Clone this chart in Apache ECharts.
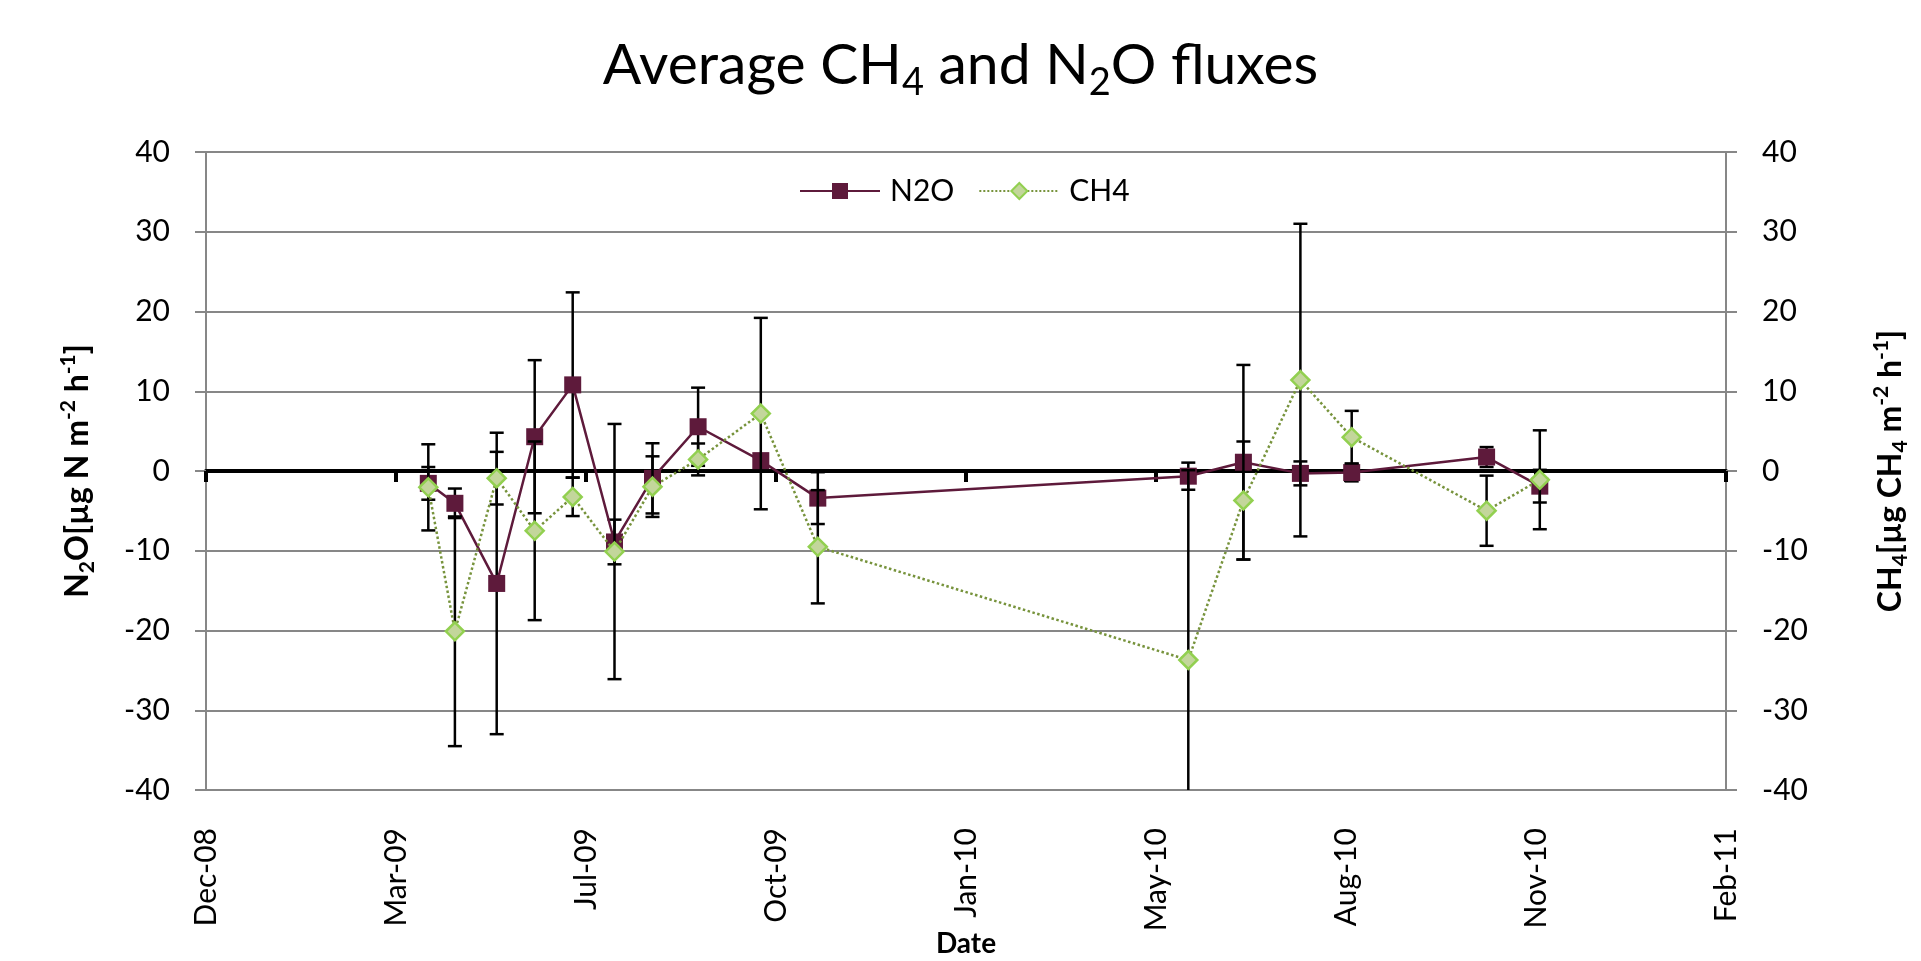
<!DOCTYPE html>
<html>
<head>
<meta charset="utf-8">
<title>Average CH4 and N2O fluxes</title>
<script src="https://cdn.jsdelivr.net/npm/echarts@6/dist/echarts.min.js"></script>
<style>
  html, body { margin: 0; padding: 0; background: #fff; }
  #chart { width: 1921px; height: 961px; }
</style>
</head>
<body>
<div id="chart"></div>
<script>
// ---- data ----
const dates = ['2009-04-14','2009-04-28','2009-05-20','2009-06-09','2009-06-29','2009-07-21',
               '2009-08-10','2009-09-03','2009-10-06','2009-11-05','2010-05-19','2010-06-17',
               '2010-07-17','2010-08-13','2010-10-23','2010-11-20'];
const n2o    = [-1.55, -4.05, -14.1, 4.3, 10.8, -8.9, -0.92, 5.55, 1.3, -3.4, -0.65, 1.1, -0.3, -0.2, 1.75, -1.9];
const n2oErr = [2.05, 1.85, 18.9, 9.6, 11.6, 2.8, 4.4, 4.9, 0.7, 3.25, 1.7, 12.2, 1.5, 1.1, 1.25, 2.05];
const ch4    = [-2.05, -20.1, -0.9, -7.5, -3.25, -10.1, -1.96, 1.45, 7.2, -9.5, -23.7, -3.7, 11.4, 4.24, -4.98, -1.1];
const ch4Err = [5.4, 14.4, 3.3, 11.2, 2.4, 16.0, 3.8, 2.0, 12.0, 7.1, 23.8, 7.4, 19.6, 3.3, 4.4, 6.2];
const seriesNames = ['N2O', 'CH4'];
const xMin = 39800, xMax = 40600, xStep = 100;   // Excel day serials (Dec-08 .. Feb-11)
const yMin = -40, yMax = 40, yStep = 10;

// ---- helpers ----
const EPOCH = Date.UTC(1899, 11, 30);
const DAY = 86400000;
const MONTHS = ['Jan','Feb','Mar','Apr','May','Jun','Jul','Aug','Sep','Oct','Nov','Dec'];
function toSerial(s) {
  const p = s.split('-').map(Number);
  return (Date.UTC(p[0], p[1] - 1, p[2]) - EPOCH) / DAY;
}
function fmtSerial(v) {
  const d = new Date(EPOCH + Math.round(v) * DAY);
  const yy = String(d.getUTCFullYear() % 100).padStart(2, '0');
  return MONTHS[d.getUTCMonth()] + '-' + yy;
}
const xs = dates.map(toSerial);
const n2oData = xs.map((x, i) => [x, n2o[i]]);
const ch4Data = xs.map((x, i) => [x, ch4[i]]);
const n2oErrData = xs.map((x, i) => [x, n2o[i], n2oErr[i]]);
const ch4ErrData = xs.map((x, i) => [x, ch4[i], ch4Err[i]]);

function renderErr(params, api) {
  const x = api.value(0), v = api.value(1), e = api.value(2);
  const p1 = api.coord([x, v + e]);
  const p2 = api.coord([x, v - e]);
  const hw = 7;
  const style = { stroke: '#000', lineWidth: 2.5 };
  return {
    type: 'group',
    children: [
      { type: 'line', shape: { x1: p1[0], y1: p1[1], x2: p2[0], y2: p2[1] }, style: style },
      { type: 'line', shape: { x1: p1[0] - hw, y1: p1[1], x2: p1[0] + hw, y2: p1[1] }, style: style },
      { type: 'line', shape: { x1: p2[0] - hw, y1: p2[1], x2: p2[0] + hw, y2: p2[1] }, style: style }
    ]
  };
}

const FONT = 'Lato';
const GRID_GRAY = '#878787';

const chart = echarts.init(document.getElementById('chart'), null, { renderer: 'canvas' });

const yAxisBase = {
  type: 'value', min: yMin, max: yMax, interval: yStep,
  nameLocation: 'middle', nameRotate: 90,
  axisLine: { show: true, onZero: false, lineStyle: { color: GRID_GRAY, width: 2 } },
  axisTick: { show: true, length: 11, lineStyle: { color: GRID_GRAY, width: 2 } },
  axisLabel: { fontFamily: FONT, fontSize: 30, color: '#000', margin: 36 },
  nameMoveOverlap: false
};

const nameRich = {
  b:   { fontFamily: FONT, fontWeight: 'bold', fontSize: 32, lineHeight: 40, color: '#000' },
  sub: { fontFamily: FONT, fontWeight: 'bold', fontSize: 21, lineHeight: 22, verticalAlign: 'bottom', color: '#000' },
  sup: { fontFamily: FONT, fontWeight: 'bold', fontSize: 21, lineHeight: 20, verticalAlign: 'top', color: '#000' }
};

const option = {
  animation: false,
  backgroundColor: '#fff',
  title: {
    text: '{m|Average CH}{s|4}{m| and N}{s|2}{m|O fluxes}',
    left: 'center',
    top: 25,
    textStyle: {
      fontWeight: 'normal',
      rich: {
        m: { fontFamily: FONT, fontWeight: 'normal', fontSize: 57, lineHeight: 72, color: '#000' },
        s: { fontFamily: FONT, fontWeight: 'normal', fontSize: 38, lineHeight: 28, verticalAlign: 'bottom', color: '#000' }
      }
    }
  },
  legend: {
    data: seriesNames,
    left: 794,
    top: 171,
    itemWidth: 80,
    itemHeight: 20,
    itemGap: 24,
    textStyle: { fontFamily: FONT, fontSize: 30, color: '#000', padding: [0, 0, 0, 5] }
  },
  grid: { left: 206, right: 195, top: 152, bottom: 171, containLabel: false, outerBoundsMode: 'none' },
  xAxis: [
    {
      type: 'value', min: xMin, max: xMax, interval: xStep, position: 'bottom',
      axisLine: { show: true, onZero: true, onZeroAxisIndex: 0, lineStyle: { color: '#000', width: 4 } },
      axisTick: { show: true, inside: false, length: 11, lineStyle: { color: '#000', width: 4 } },
      axisLabel: { show: false },
      splitLine: { show: false }
    },
    {
      type: 'value', min: xMin, max: xMax, interval: xStep, position: 'bottom',
      name: 'Date', nameLocation: 'middle', nameGap: 140, nameMoveOverlap: false,
      nameTextStyle: { fontFamily: FONT, fontWeight: 'bold', fontSize: 28, lineHeight: 28, color: '#000' },
      axisLine: { show: false, onZero: false },
      axisTick: { show: false },
      axisLabel: { rotate: 90, margin: 38, fontFamily: FONT, fontSize: 30, color: '#000', formatter: fmtSerial },
      splitLine: { show: false }
    }
  ],
  yAxis: [
    Object.assign({}, yAxisBase, {
      position: 'left',
      name: '{b|N}{sub|2}{b|O[µg N m}{sup|-2}{b| h}{sup|-1}{b|]}',
      nameGap: 108,
      nameTextStyle: { rich: nameRich },
      splitLine: { show: true, lineStyle: { color: GRID_GRAY, width: 2 } }
    }),
    Object.assign({}, yAxisBase, {
      position: 'right',
      name: '{b|CH}{sub|4}{b|[µg CH}{sub|4}{b| m}{sup|-2}{b| h}{sup|-1}{b|]}',
      nameGap: 145,
      nameTextStyle: { rich: nameRich },
      splitLine: { show: false }
    })
  ],
  series: [
    {
      type: 'custom', name: 'N2O err', xAxisIndex: 0, yAxisIndex: 0,
      renderItem: renderErr, data: n2oErrData, encode: { x: 0, y: 1 }, clip: true, z: 2, silent: true
    },
    {
      type: 'line', name: 'N2O', xAxisIndex: 0, yAxisIndex: 0, data: n2oData, z: 3,
      symbol: 'rect', symbolSize: 17,
      lineStyle: { color: '#5E1A3B', width: 2.5, type: 'solid' },
      itemStyle: { color: '#5E1A3B', borderColor: '#5E1A3B', borderWidth: 0 }
    },
    {
      type: 'custom', name: 'CH4 err', xAxisIndex: 0, yAxisIndex: 1,
      renderItem: renderErr, data: ch4ErrData, encode: { x: 0, y: 1 }, clip: true, z: 4, silent: true
    },
    {
      type: 'line', name: 'CH4', xAxisIndex: 0, yAxisIndex: 1, data: ch4Data, z: 5,
      symbol: 'diamond', symbolSize: 18,
      lineStyle: { color: '#77933C', width: 2.5, type: 'dotted' },
      itemStyle: { color: '#C3D69B', borderColor: '#92D050', borderWidth: 2.5 }
    }
  ]
};
chart.setOption(option);
</script>
</body>
</html>
